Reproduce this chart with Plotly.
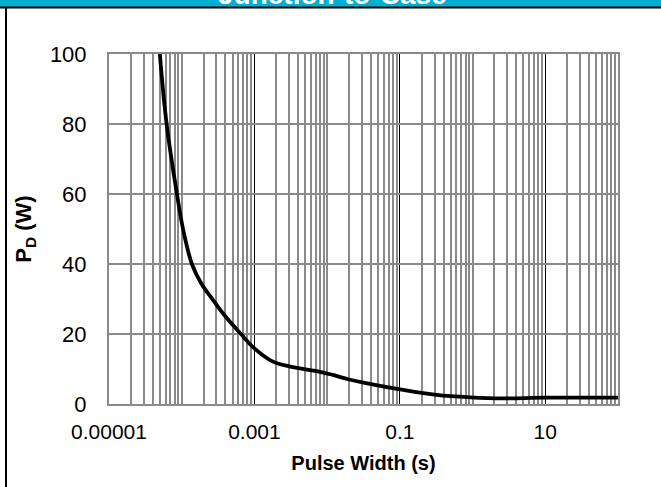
import plotly.graph_objects as go

# Data
pulse_width = [5.0e-5, 6.2e-5, 8.6e-5, 1.05e-4, 1.38e-4, 1.85e-4, 2.7e-4, 4.0e-4,
               6.4e-4, 1.0e-3, 1.8e-3, 3.1e-3, 8.0e-3, 1.2e-2, 2.0e-2, 4.0e-2,
               0.1, 0.32, 0.93, 2.6, 10, 100]
power_w = [100, 80, 60, 49.7, 40, 34.5, 29.7, 25, 20.2, 15.9, 12.1, 10.7, 9.2, 8.3,
           7.0, 5.7, 4.2, 2.6, 1.9, 1.6, 1.8, 1.8]

x_major_ticks = [1e-5, 1e-3, 0.1, 10]
x_major_labels = ["0.00001", "0.001", "0.1", "10"]
y_ticks = [0, 20, 40, 60, 80, 100]
title_text = "Junction-to-Case"

W, H = 661, 487
L, R, T, B = 109, 43, 54, 83
PW, PH = W - L - R, H - T - B

def px(x):
    return (x - L) / PW

def py(y):
    return (H - B - y) / PH

minor_vals = [m * 10 ** e for e in range(-5, 2) for m in range(1, 10)
              if not (m == 1 and (e % 2 == 1))] + [100]
minor_vals = [v for v in minor_vals if v not in x_major_ticks]

FONT = "Liberation Sans, Arial, sans-serif"
GRID = "#8a8a8a"

fig = go.Figure()
fig.add_trace(go.Scatter(
    x=pulse_width, y=power_w, mode="lines",
    line=dict(color="black", width=3.8, shape="spline", smoothing=1.0),
    showlegend=False, hoverinfo="skip"))

fig.update_layout(
    width=W, height=H,
    margin=dict(l=L, r=R, t=T, b=B, pad=0),
    paper_bgcolor="white", plot_bgcolor="white",
    font=dict(family=FONT, size=20, color="black"),
    xaxis=dict(
        type="log", range=[-5, 2],
        tickmode="array", tickvals=x_major_ticks, ticktext=x_major_labels,
        showgrid=True, gridcolor="black", gridwidth=1,
        ticks="outside", ticklen=8, tickcolor="rgba(0,0,0,0)",
        showline=True, linecolor=GRID, linewidth=2, mirror=True,
        zeroline=False,
        minor=dict(tickmode="array", tickvals=minor_vals, showgrid=True,
                   gridcolor=GRID, gridwidth=2, ticks=""),
        title=dict(text="<b>Pulse Width (s)</b>", font=dict(size=20), standoff=14),
        tickfont=dict(size=21),
    ),
    yaxis=dict(
        range=[0, 100], tickmode="array", tickvals=y_ticks,
        showgrid=True, gridcolor=GRID, gridwidth=2,
        ticks="outside", ticklen=16, tickcolor="rgba(0,0,0,0)",
        showline=True, linecolor=GRID, linewidth=2, mirror=True,
        zeroline=False,
        title=dict(text="<b>P<sub>D</sub> (W)</b>", font=dict(size=22), standoff=12),
        tickfont=dict(size=22),
    ),
    shapes=[
        dict(type="rect", xref="paper", yref="paper", x0=px(0), x1=px(W),
             y0=py(7), y1=py(-5), fillcolor="#00AFCF", line=dict(width=0), layer="above"),
        dict(type="line", xref="paper", yref="paper", x0=px(0), x1=px(W),
             y0=py(7.5), y1=py(7.5), line=dict(color="black", width=2), layer="above"),
        dict(type="line", xref="paper", yref="paper", x0=px(6), x1=px(6),
             y0=py(7.5), y1=py(H + 5), line=dict(color="black", width=2), layer="above"),
    ],
    annotations=[
        dict(text="<b>" + title_text + "</b>", xref="paper", yref="paper",
             x=px(332), y=py(12), xanchor="center", yanchor="bottom",
             showarrow=False, font=dict(size=28, color="white", family=FONT)),
    ],
)

fig.write_html("out.html")
